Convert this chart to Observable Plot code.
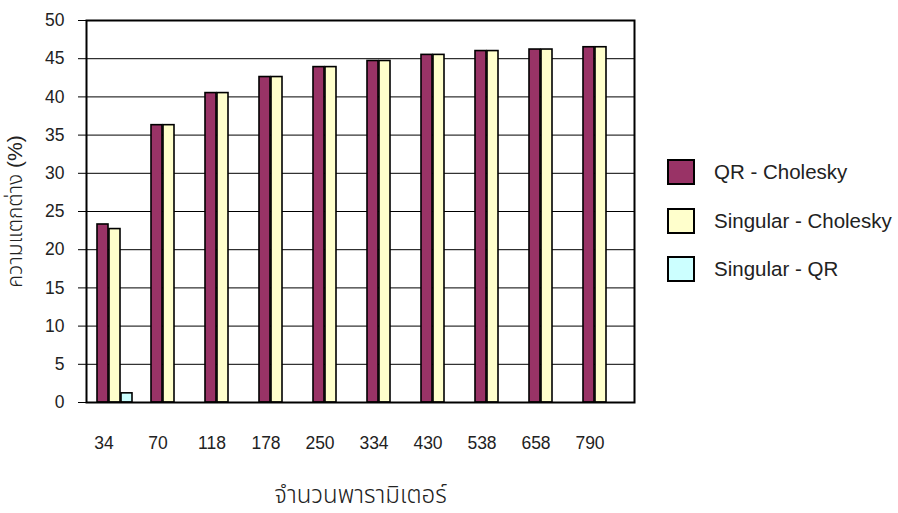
<!DOCTYPE html>
<html>
<head>
<meta charset="utf-8">
<script src="https://cdn.jsdelivr.net/npm/d3@7"></script>
<script src="https://cdn.jsdelivr.net/npm/@observablehq/plot@0.6"></script>
<style>
  html, body { margin: 0; padding: 0; background: #fff; }
  #wrap { position: relative; width: 898px; height: 513px; font-family: "Liberation Sans", Arial, "Noto Sans Thai", sans-serif; }
  #legend { position: absolute; left: 667px; top: 148px; }
  .item { display: flex; align-items: center; height: 48.5px; }
  .sw { width: 24px; height: 22px; border: 2px solid #000; box-sizing: content-box; margin-right: 19px; }
  .lab { font-size: 20.5px; color: #222; white-space: nowrap; }
</style>
</head>
<body>
<div id="wrap"></div>
<script>
const categories = ["34","70","118","178","250","334","430","538","658","790"];
const seriesNames = ["QR - Cholesky", "Singular - Cholesky", "Singular - QR"];
const seriesColors = ["#993366", "#FFFFCC", "#CCFFFF"];
const qrCholesky = [23.3, 36.3, 40.5, 42.6, 43.9, 44.7, 45.5, 46.0, 46.2, 46.5];
const singularCholesky = [22.7, 36.3, 40.5, 42.6, 43.9, 44.7, 45.5, 46.0, 46.2, 46.5];
const singularQR = [1.2, 0, 0, 0, 0, 0, 0, 0, 0, 0];
const yTicks = [0, 5, 10, 15, 20, 25, 30, 35, 40, 45, 50];
const yTitle = "ความแตกต่าง (%)";
const xTitle = "จำนวนพารามิเตอร์";

const seriesValues = [qrCholesky, singularCholesky, singularQR];
const rows = seriesValues.map((vals, s) => categories.map((c, i) => ({cat: c, series: seriesNames[s], s, value: vals[i]})));

const nS = seriesNames.length;
const barMarks = rows.map((data, s) => Plot.barY(data, {
  x: "cat", y: "value", fill: seriesColors[s], stroke: "#000", strokeWidth: 1.6,
  insetLeft: 12 * s, insetRight: 12 * (nS - 1 - s)
}));

const chart = Plot.plot({
  width: 898, height: 513,
  marginLeft: 86, marginRight: 264, marginTop: 20, marginBottom: 111,
  style: {fontFamily: '"Liberation Sans", Arial, "Noto Sans Thai", sans-serif', fontSize: "17px", color: "#222", background: "transparent"},
  x: {domain: categories, paddingInner: 0.344, paddingOuter: 0.162, align: 0.41},
  y: {domain: [0, 50]},
  marks: [
    Plot.ruleY(yTicks.slice(1, -1), {stroke: "#000", strokeWidth: 1}),
    ...barMarks,
    Plot.axisY({ticks: yTicks, tickSize: 8, tickPadding: 14, stroke: "#000", strokeWidth: 1, strokeOpacity: 1, label: null, fontSize: 17.5}),
    Plot.axisX({tickSize: 0, tickPadding: 34, dx: -11, label: null, fontSize: 17.5}),
    Plot.text([yTitle], {text: d => d, frameAnchor: "left", textAnchor: "middle", dx: -71, rotate: -90, fill: "#222", fontSize: 21, fontWeight: 300}),
    Plot.text([xTitle], {text: d => d, frameAnchor: "bottom", textAnchor: "middle", dy: 100, fill: "#222", fontSize: 24, fontWeight: 300}),
    Plot.frame({stroke: "#000", strokeWidth: 2})
  ]
});
const wrap = document.getElementById("wrap");
wrap.appendChild(chart);
chart.style.position = "absolute"; chart.style.left = "0"; chart.style.top = "0";

const legend = document.createElement("div");
legend.id = "legend";
seriesNames.forEach((n, i) => {
  const it = document.createElement("div"); it.className = "item";
  const sw = document.createElement("div"); sw.className = "sw"; sw.style.background = seriesColors[i];
  const lb = document.createElement("div"); lb.className = "lab"; lb.textContent = n;
  it.appendChild(sw); it.appendChild(lb); legend.appendChild(it);
});
wrap.appendChild(legend);
</script>
</body>
</html>
